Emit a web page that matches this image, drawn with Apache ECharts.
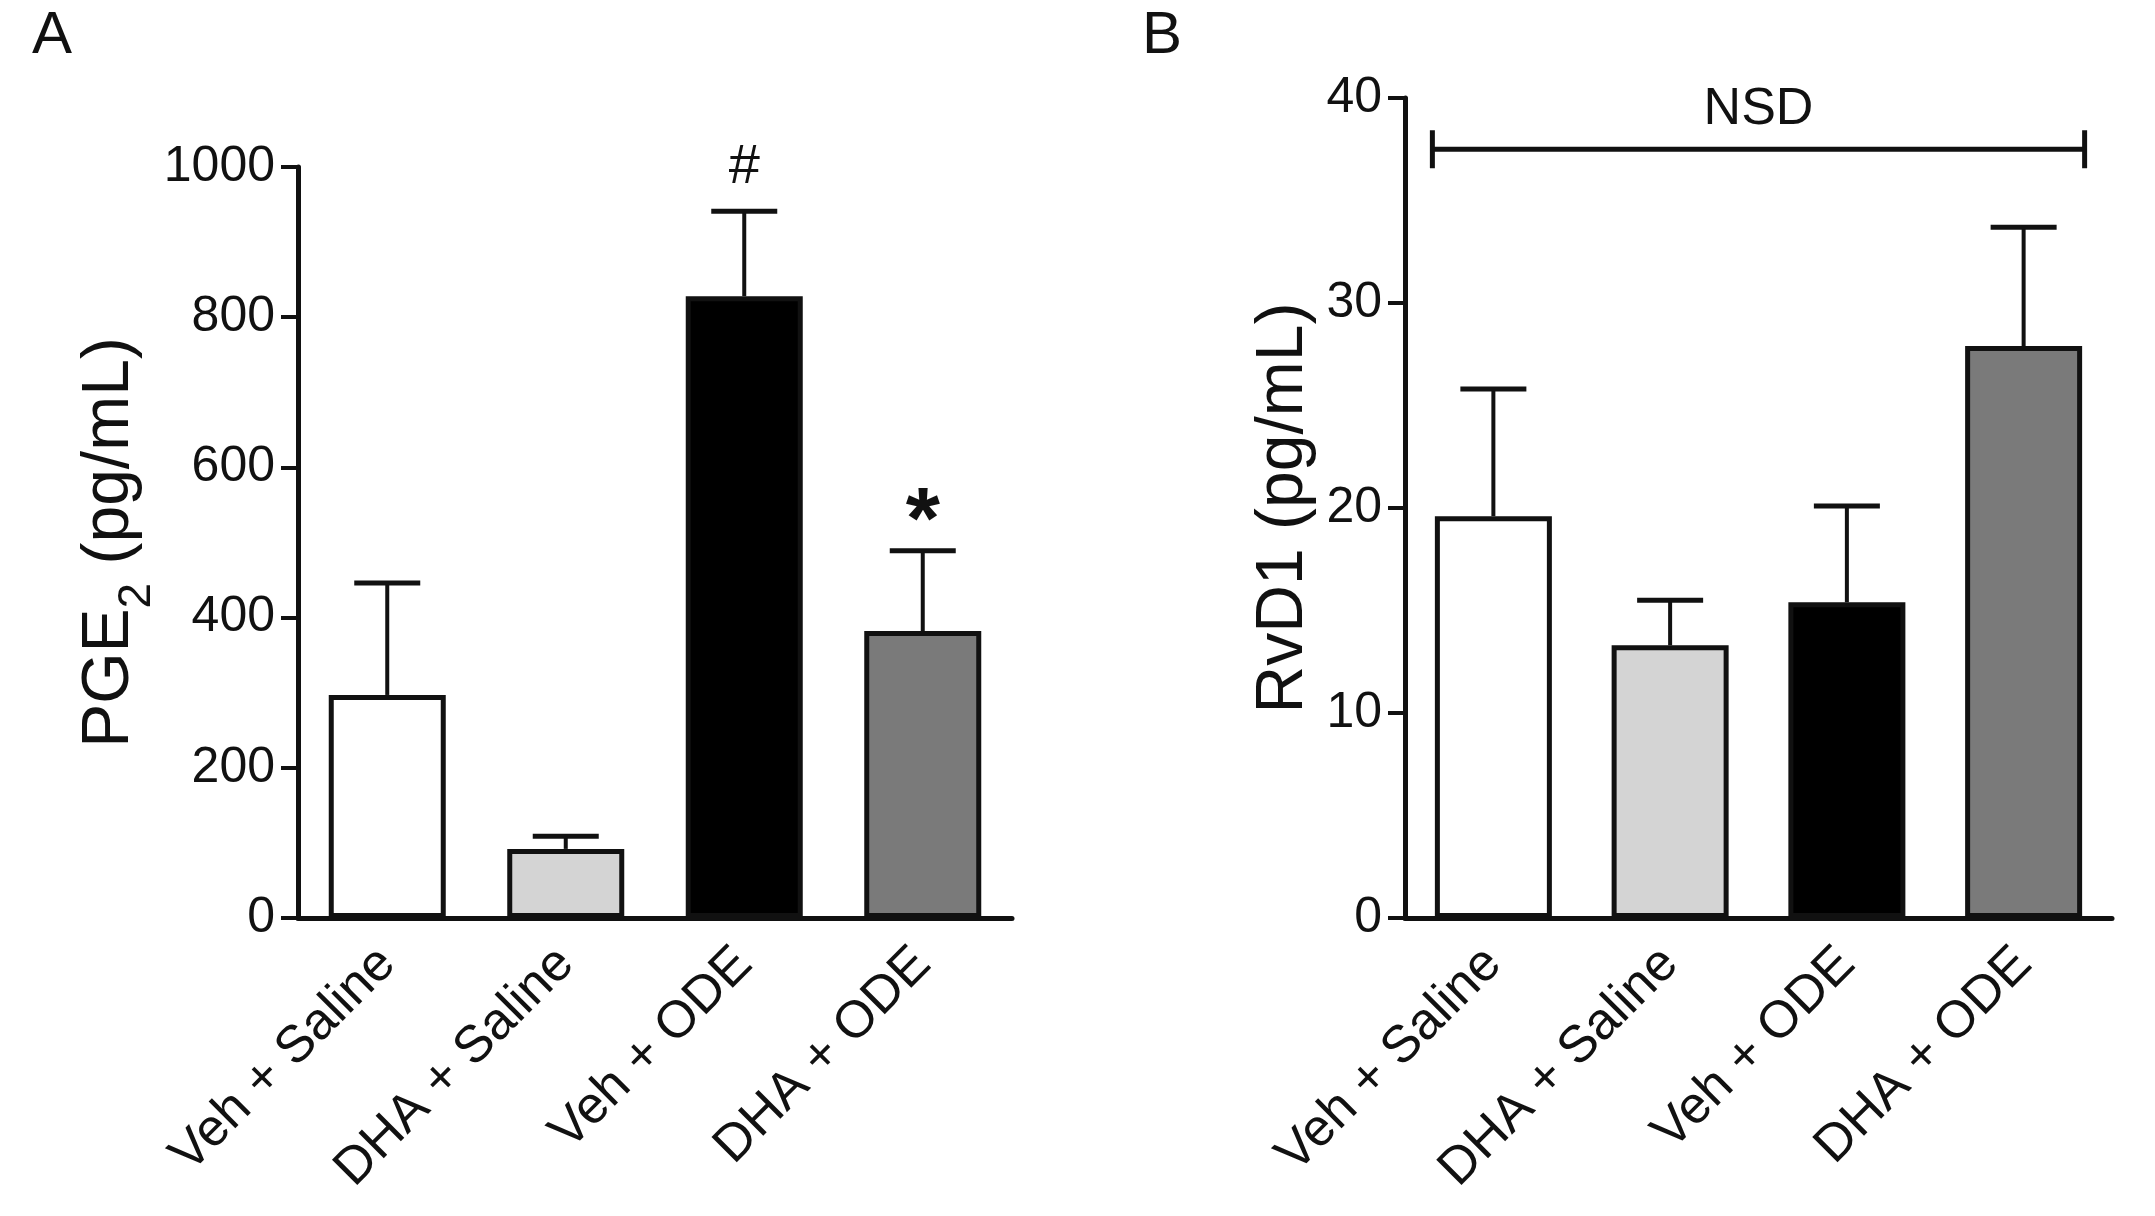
<!DOCTYPE html>
<html>
<head>
<meta charset="utf-8">
<script src="https://cdn.jsdelivr.net/npm/echarts@6/dist/echarts.min.js"></script>
<style>
  html, body { margin: 0; padding: 0; background: #fff; }
  #chart { width: 2155px; height: 1216px; }
</style>
</head>
<body>
<div id="chart"></div>
<script>
const categories = ['Veh + Saline', 'DHA + Saline', 'Veh + ODE', 'DHA + ODE'];
const barColors = ['#ffffff', '#d4d4d4', '#000000', '#7a7a7a'];

// panel A: PGE2
const pgeMean = [297, 92, 828, 382];
const pgeSem = [149, 17, 113, 107];
const pgeMarks = ['', '', '#', '*'];
const pgeTicks = [0, 200, 400, 600, 800, 1000];

// panel B: RvD1
const rvdMean = [19.6, 13.3, 15.4, 27.9];
const rvdSem = [6.2, 2.2, 4.7, 5.8];
const rvdTicks = [0, 10, 20, 30, 40];
const nsdSpan = [0, 3];
const nsdLevel = 37.5;

const FONT = 'Liberation Sans, Arial, Helvetica, sans-serif';
const INK = '#111';
const BAR_W = 117;
const BAR_BORDER = 5;

const chart = echarts.init(document.getElementById('chart'));

function barData(means) {
  return means.map((v, i) => ({ value: v, itemStyle: { color: barColors[i] } }));
}

function errData(means, sems) {
  return means.map((v, i) => [i, v, v + sems[i]]);
}

// mark glyphs sit differently on the baseline, so each gets its own size/offset
const markStyle = {
  '#': { fontSize: 56, fontWeight: 'normal', dy: -44 },
  '*': { fontSize: 88, fontWeight: 'bold', dy: -27 }
};

function errorBars(marks) {
  return function (params, api) {
    const i = api.value(0);
    const base = api.coord([i, api.value(1)]);
    const top = api.coord([i, api.value(2)]);
    const half = 33;
    const kids = [
      { type: 'line', shape: { x1: base[0], y1: base[1], x2: top[0], y2: top[1] },
        style: { stroke: INK, lineWidth: 4 } },
      { type: 'line', shape: { x1: top[0] - half, y1: top[1], x2: top[0] + half, y2: top[1] },
        style: { stroke: INK, lineWidth: 5 } }
    ];
    const mark = marks && marks[params.dataIndex];
    if (mark) {
      const ms = markStyle[mark];
      kids.push({
        type: 'text', x: top[0], y: top[1] + ms.dy,
        style: { text: mark, fontSize: ms.fontSize, fontWeight: ms.fontWeight, fontFamily: FONT,
          fill: INK, align: 'center', verticalAlign: 'middle' }
      });
    }
    return { type: 'group', children: kids };
  };
}

function bracket(params, api) {
  const y = api.coord([api.value(0), api.value(1)])[1];
  const x1 = api.coord([api.value(0), api.value(1)])[0] - (BAR_W + BAR_BORDER) / 2;
  const x2 = api.coord([api.value(2), api.value(1)])[0] + (BAR_W + BAR_BORDER) / 2;
  return {
    type: 'group',
    children: [
      { type: 'line', shape: { x1: x1, y1: y, x2: x2, y2: y }, style: { stroke: INK, lineWidth: 5 } },
      { type: 'line', shape: { x1: x1, y1: y - 19, x2: x1, y2: y + 19 }, style: { stroke: INK, lineWidth: 5 } },
      { type: 'line', shape: { x1: x2, y1: y - 19, x2: x2, y2: y + 19 }, style: { stroke: INK, lineWidth: 5 } },
      { type: 'text', x: (x1 + x2) / 2, y: y - 14,
        style: { text: 'NSD', fontSize: 52, fontFamily: FONT, fill: INK, align: 'center', verticalAlign: 'bottom' } }
    ]
  };
}

function xAxis(gridIndex) {
  return {
    type: 'category',
    gridIndex: gridIndex,
    data: categories,
    axisLine: { lineStyle: { color: INK, width: 5 } },
    axisTick: { alignWithLabel: true, length: 19, lineStyle: { color: INK, width: 4 } },
    axisLabel: { rotate: 45, interval: 0, margin: 38, fontSize: 52, fontFamily: FONT, color: INK }
  };
}

function yAxis(gridIndex, ticks, name, gap, rich) {
  return {
    type: 'value',
    gridIndex: gridIndex,
    min: ticks[0],
    max: ticks[ticks.length - 1],
    interval: ticks[1] - ticks[0],
    name: name,
    nameLocation: 'middle',
    nameRotate: 90,
    nameGap: gap,
    nameTextStyle: { fontSize: 66, fontFamily: FONT, color: INK, rich: rich },
    splitLine: { show: false },
    axisLine: { show: true, lineStyle: { color: INK, width: 5 } },
    axisTick: { show: true, length: 17, lineStyle: { color: INK, width: 4 } },
    axisLabel: { margin: 23, fontSize: 50, fontFamily: FONT, color: INK, formatter: v => String(v) }
  };
}

const subRich = {
  sub: { fontSize: 46, fontFamily: FONT, color: INK, verticalAlign: 'bottom', lineHeight: 101 }
};

chart.setOption({
  animation: false,
  backgroundColor: '#fff',
  graphic: [
    { type: 'text', left: 32, top: 6, style: { text: 'A', fontSize: 60, fontFamily: FONT, fill: INK } },
    { type: 'text', left: 1142, top: 6, style: { text: 'B', fontSize: 60, fontFamily: FONT, fill: INK } }
  ],
  grid: [
    { left: 298, top: 167, width: 714, height: 751 },
    { left: 1405, top: 98, width: 707, height: 820 }
  ],
  xAxis: [xAxis(0), xAxis(1)],
  yAxis: [
    yAxis(0, pgeTicks, 'PGE{sub|2} (pg/mL)', 130, subRich),
    yAxis(1, rvdTicks, 'RvD1 (pg/mL)', 88)
  ],
  series: [
    { type: 'bar', xAxisIndex: 0, yAxisIndex: 0, barWidth: BAR_W, data: barData(pgeMean),
      itemStyle: { borderColor: INK, borderWidth: BAR_BORDER } },
    { type: 'bar', xAxisIndex: 1, yAxisIndex: 1, barWidth: BAR_W, data: barData(rvdMean),
      itemStyle: { borderColor: INK, borderWidth: BAR_BORDER } },
    { type: 'custom', xAxisIndex: 0, yAxisIndex: 0, data: errData(pgeMean, pgeSem),
      renderItem: errorBars(pgeMarks), z: 5 },
    { type: 'custom', xAxisIndex: 1, yAxisIndex: 1, data: errData(rvdMean, rvdSem),
      renderItem: errorBars(null), z: 5 },
    { type: 'custom', xAxisIndex: 1, yAxisIndex: 1, data: [[nsdSpan[0], nsdLevel, nsdSpan[1]]],
      renderItem: bracket, z: 5 }
  ]
});
</script>
</body>
</html>
